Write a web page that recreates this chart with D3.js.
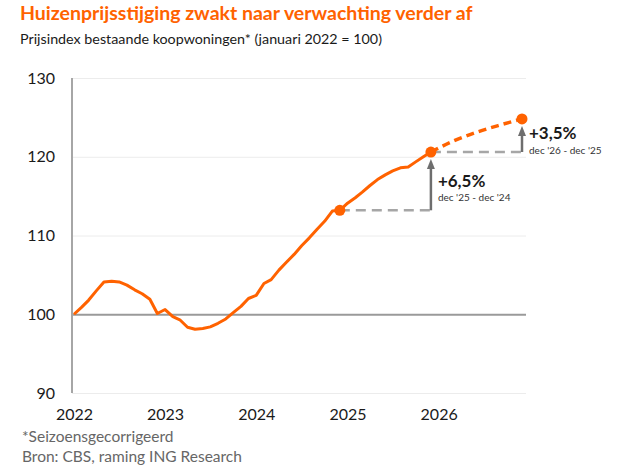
<!DOCTYPE html>
<html>
<head>
<meta charset="utf-8">
<script src="https://cdn.jsdelivr.net/npm/d3@7"></script>
<style>
  body { margin: 0; background: #fff; }
  svg text { font-family: Lato, sans-serif; }
</style>
</head>
<body>
<div id="chart"></div>
<script>
// Prijsindex bestaande koopwoningen, jan 2022 = 100 (monthly, jan 2022 - dec 2025)
const startMonth = new Date(2022, 0, 1);
const indexValues = [
  100.0, 100.9, 101.8, 103.0, 104.1, 104.2, 104.1, 103.7, 103.1, 102.6, 101.9, 100.1,
  100.6, 99.7, 99.3, 98.35, 98.1, 98.2, 98.4, 98.85, 99.4, 100.2, 101.0, 102.0,
  102.4, 103.9, 104.4, 105.6, 106.6, 107.6, 108.7, 109.7, 110.8, 111.8, 113.1, 113.2,
  114.1, 114.8, 115.5, 116.35, 117.1, 117.7, 118.2, 118.6, 118.7, 119.35, 120.0, 120.6
];
// ING raming 2026 (quarterly)
const forecastDates = [new Date(2025, 11, 1), new Date(2026, 2, 1), new Date(2026, 5, 1), new Date(2026, 8, 1), new Date(2026, 11, 1)];
const forecastValues = [120.6, 122.0, 123.1, 124.0, 124.8];

const yTicks = [90, 100, 110, 120, 130];
const yearTicks = [2022, 2023, 2024, 2025, 2026];

const width = 626, height = 471;
const orange = "#ff6200";

const svg = d3.select("#chart").append("svg")
  .attr("width", width)
  .attr("height", height);

const data = indexValues.map((v, i) => ({ date: d3.timeMonth.offset(startMonth, i), value: v }));
const forecast = forecastDates.map((d, i) => ({ date: d, value: forecastValues[i] }));

const x = d3.scaleTime()
  .domain([new Date(2022, 0, 1), new Date(2026, 11, 1)])
  .range([74, 522]);
const y = d3.scaleLinear()
  .domain([90, 130])
  .range([393, 78]);

// titles
svg.append("text")
  .attr("x", 20).attr("y", 20)
  .attr("fill", orange)
  .style("font-size", "19.5px").style("font-weight", "bold")
  .text("Huizenprijsstijging zwakt naar verwachting verder af");
svg.append("text")
  .attr("x", 20).attr("y", 44)
  .attr("fill", "#1a1a1a")
  .style("font-size", "14.3px")
  .text("Prijsindex bestaande koopwoningen* (januari 2022 = 100)");

// y axis + gridlines
const yAxis = svg.append("g")
  .attr("transform", "translate(72,0)")
  .call(d3.axisLeft(y).tickValues(yTicks).tickSize(-(526 - 72)).tickPadding(17));
yAxis.select(".domain").remove();
yAxis.selectAll(".tick line")
  .attr("stroke", d => d === 100 ? "#9a9a9a" : "#ececec")
  .attr("stroke-width", d => d === 100 ? 2 : 1);
yAxis.selectAll(".tick text")
  .attr("fill", "#1a1a1a")
  .style("font-size", "16px");

svg.append("line")
  .attr("x1", 72).attr("x2", 72)
  .attr("y1", y(130)).attr("y2", y(90))
  .attr("stroke", "#a6a6a6").attr("stroke-width", 2);

// x axis labels
const xAxis = svg.append("g")
  .attr("transform", `translate(0,${y(90)})`)
  .call(d3.axisBottom(x)
    .tickValues(yearTicks.map(yr => new Date(yr, 0, 1)))
    .tickFormat(d3.timeFormat("%Y"))
    .tickSize(0).tickPadding(16));
xAxis.select(".domain").remove();
xAxis.selectAll(".tick text")
  .attr("fill", "#1a1a1a")
  .style("font-size", "16px");

// gray dashed reference lines and arrows
svg.append("defs").append("marker")
  .attr("id", "arrow")
  .attr("viewBox", "0 0 10 10")
  .attr("refX", 5).attr("refY", 5)
  .attr("markerWidth", 4).attr("markerHeight", 4)
  .attr("orient", "auto")
  .append("path")
  .attr("d", "M0,1 L10,5 L0,9 Z")
  .attr("fill", "#6e6e6e");

const dec24 = data[35], dec25 = data[47], dec26 = forecast[forecast.length - 1];
const steps = [
  { from: dec24, to: dec25, pct: "+6,5%", label: "dec '25 - dec '24", dy: -23, sub: 14 },
  { from: dec25, to: dec26, pct: "+3,5%", label: "dec '26 - dec '25", dy: -13, sub: 15 }
];
steps.forEach(s => {
  svg.append("line")
    .attr("x1", x(s.from.date)).attr("x2", x(s.to.date))
    .attr("y1", y(s.from.value)).attr("y2", y(s.from.value))
    .attr("stroke", "#a6a6a6").attr("stroke-width", 2.5)
    .attr("stroke-dasharray", "10,6");
  svg.append("line")
    .attr("x1", x(s.to.date)).attr("x2", x(s.to.date))
    .attr("y1", y(s.from.value)).attr("y2", y(s.to.value) + 12)
    .attr("stroke", "#6e6e6e").attr("stroke-width", 2.5)
    .attr("marker-end", "url(#arrow)");
});

// lines
const line = d3.line().x(d => x(d.date)).y(d => y(d.value));
svg.append("path")
  .datum(data)
  .attr("d", line)
  .attr("fill", "none")
  .attr("stroke", orange).attr("stroke-width", 3)
  .attr("stroke-linejoin", "round");
svg.append("path")
  .datum(forecast)
  .attr("d", line.curve(d3.curveMonotoneX))
  .attr("fill", "none")
  .attr("stroke", orange).attr("stroke-width", 3.5)
  .attr("stroke-dasharray", "8,5");

svg.selectAll("circle.dot")
  .data([dec24, dec25, dec26])
  .join("circle")
  .attr("class", "dot")
  .attr("cx", d => x(d.date)).attr("cy", d => y(d.value))
  .attr("r", 5.5)
  .attr("fill", orange);

// annotation texts
steps.forEach(s => {
  const tx = x(s.to.date) + 7;
  const ty = y(s.from.value) + s.dy;
  svg.append("text")
    .attr("x", tx).attr("y", ty)
    .attr("fill", "#1a1a1a")
    .style("font-size", "17px").style("font-weight", "bold")
    .text(s.pct);
  svg.append("text")
    .attr("x", tx).attr("y", ty + s.sub)
    .attr("fill", "#333")
    .style("font-size", "10px")
    .text(s.label);
});

// footer
svg.append("text")
  .attr("x", 22).attr("y", 442)
  .attr("fill", "#666")
  .style("font-size", "15.5px")
  .text("*Seizoensgecorrigeerd");
svg.append("text")
  .attr("x", 22).attr("y", 462)
  .attr("fill", "#666")
  .style("font-size", "15.5px")
  .text("Bron: CBS, raming ING Research");
</script>
</body>
</html>
